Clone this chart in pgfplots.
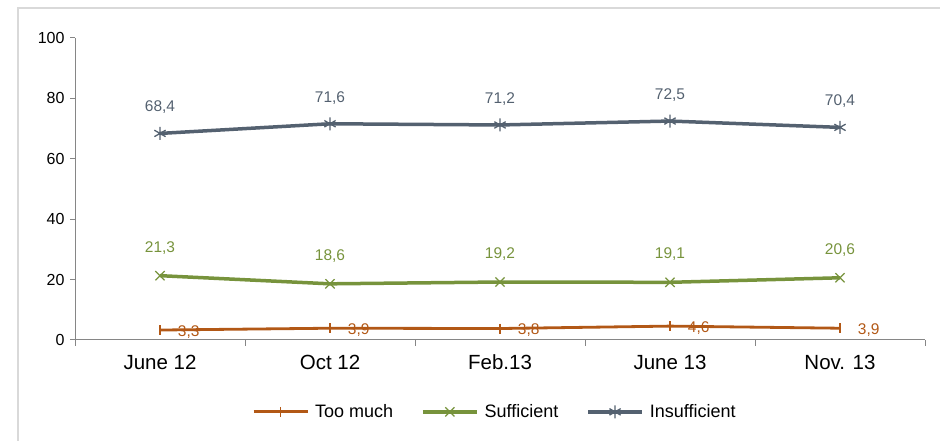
\documentclass[border=0pt]{standalone}
\usepackage{pgfplots}
\pgfplotsset{compat=1.18}
\usepackage{fontspec}
\setmainfont{Liberation Sans}
\definecolor{cTM}{RGB}{178,88,22}
\definecolor{cSU}{RGB}{119,147,60}
\definecolor{cIN}{RGB}{84,97,112}
\definecolor{cAx}{RGB}{134,134,134}
\definecolor{cFr}{RGB}{217,217,217}
\begin{document}
\begin{tikzpicture}[x=1pt,y=1pt]
\path[use as bounding box] (0,0) rectangle (940,441);
\draw[cFr,line width=1.2pt] (18,0) -- (18,433) -- (940,433);
\begin{axis}[
  at={(75pt,101pt)}, anchor=south west,
  scale only axis, width=850pt, height=302pt,
  xmin=-0.5, xmax=4.5, ymin=0, ymax=100,
  axis x line=bottom, axis y line=left,
  axis line style={cAx, line width=1pt, -},
  xtick={0,1,2,3,4},
  xticklabels={June 12, Oct 12, Feb.13, June 13, Nov. 13},
  major x tick style={draw=none},
  minor xtick={-0.5,0.5,1.5,2.5,3.5,4.5},
  minor x tick style={cAx, line width=1pt},
  minor tick length=6pt,
  ytick={0,20,40,60,80,100},
  y tick style={cAx, line width=1pt},
  major tick length=5pt,
  tick align=outside,
  /pgf/number format/assume math mode=true,
  yticklabel style={font=\fontsize{16}{18}\selectfont, xshift=-2pt},
  xticklabel style={font=\fontsize{20.5}{23}\selectfont, text height=15pt, text depth=4pt, yshift=-6pt},
  clip=false,
  nodes near coords,
  nodes near coords style={/pgf/number format/.cd, use comma, fixed, fixed zerofill, precision=1, /tikz/.cd, font=\fontsize{15.5}{17}\selectfont},
  legend columns=3,
  legend style={at={(0.494,-0.238)}, anchor=center, draw=none, font=\fontsize{18}{20}\selectfont, /tikz/every odd column/.append style={column sep=4pt}, /tikz/every even column/.append style={column sep=26pt}},
  legend image code/.code={\draw[#1] (0pt,0pt) -- (54pt,0pt); \draw[#1, only marks] plot coordinates {(27pt,0pt)};},
]
\addplot[cTM, line width=2.8pt, mark=|, mark size=5pt, mark options={line width=1.2pt},
  nodes near coords style={cTM, anchor=west, xshift=14pt, yshift=-2pt}]
  coordinates {(0,3.3) (1,3.9) (2,3.8) (3,4.6) (4,3.9)};
\addlegendentry{Too much}
\addplot[cSU, line width=3.5pt, mark=x, mark size=6.5pt, mark options={line width=1.3pt},
  nodes near coords style={cSU, anchor=center, yshift=28pt}]
  coordinates {(0,21.3) (1,18.6) (2,19.2) (3,19.1) (4,20.6)};
\addlegendentry{Sufficient}
\addplot[cIN, line width=3.5pt, mark=asterisk, mark size=6.5pt, mark options={line width=1.3pt},
  nodes near coords style={cIN, anchor=center, yshift=26pt}]
  coordinates {(0,68.4) (1,71.6) (2,71.2) (3,72.5) (4,70.4)};
\addlegendentry{Insufficient}
\end{axis}
\end{tikzpicture}
\end{document}
